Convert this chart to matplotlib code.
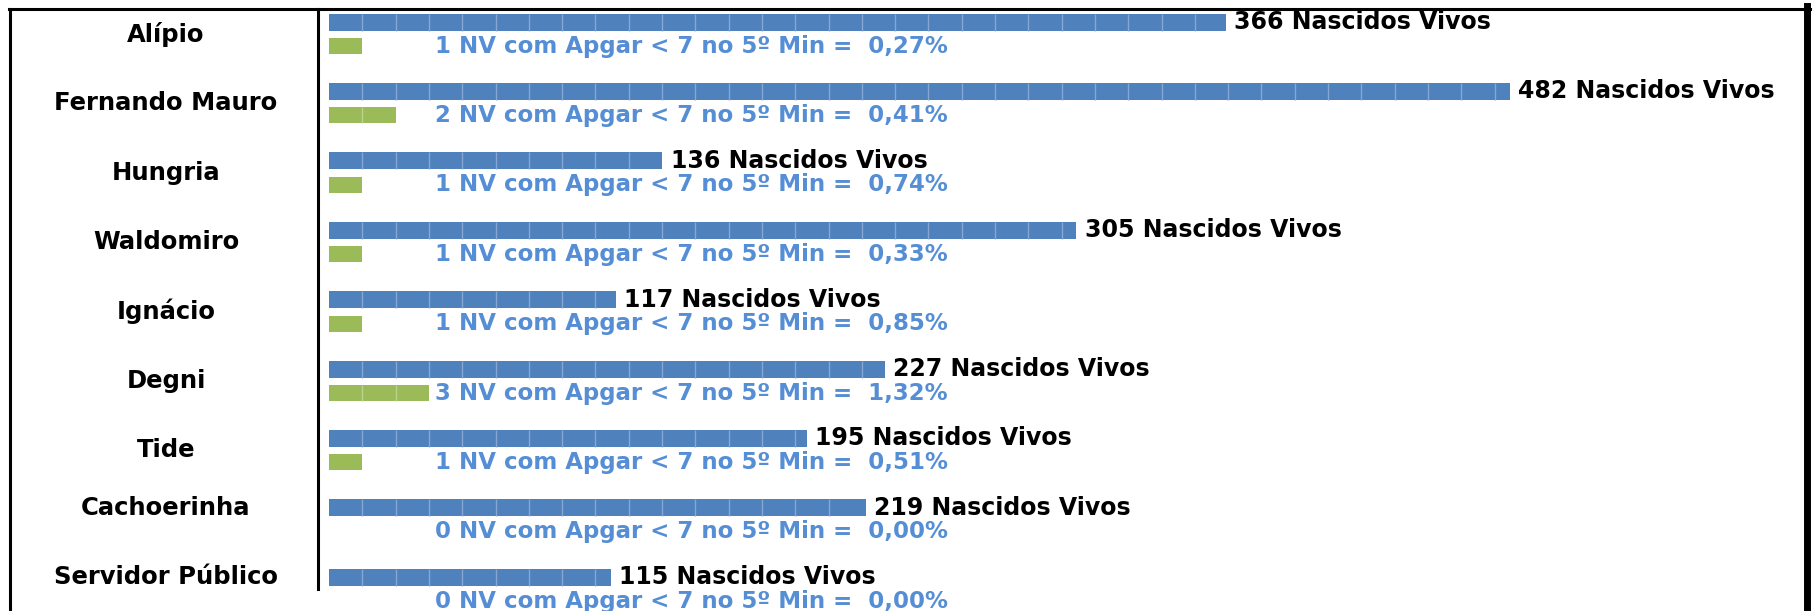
import numpy as np
import matplotlib.pyplot as plt
from matplotlib.lines import Line2D
from matplotlib.transforms import blended_transform_factory

hospitais = ['Alípio', 'Fernando Mauro', 'Hungria', 'Waldomiro', 'Ignácio',
             'Degni', 'Tide', 'Cachoerinha', 'Servidor Público']
nascidos_vivos = [366, 482, 136, 305, 117, 227, 195, 219, 115]
nv_apgar_baixo = [1, 2, 1, 1, 1, 3, 1, 0, 0]
pct_apgar_baixo = [0.27, 0.41, 0.74, 0.33, 0.85, 1.32, 0.51, 0.00, 0.00]

azul = '#4F81BD'
azul_linha = '#86A7D3'
verde = '#9BBB59'
verde_linha = '#BBD38C'
azul_texto = '#558ED5'

W, H, DPI = 1814, 611, 100
plt.rcParams['font.family'] = 'DejaVu Sans'
plt.rcParams['font.weight'] = 'bold'

fig = plt.figure(figsize=(W / DPI, H / DPI), dpi=DPI)

# geometria em pixels
x_sep, x_dir, y_topo = 318, 1806, 9
x_barra = 329            # onde as barras comecam
passo = 69.4             # distancia entre hospitais
y_centro0 = 34           # centro do primeiro hospital
px_por_nv = 2.45         # escala dos nascidos vivos
bloco_px = 33.3          # largura de cada bloco desenhado

ax = fig.add_axes([x_sep / W, 0, (x_dir - x_sep) / W, 1 - y_topo / H])
ax.set_xlim(-(x_barra - x_sep) / px_por_nv, (x_dir - x_barra) / px_por_nv)
ax.set_ylim((H - y_centro0) / passo, (y_topo - y_centro0) / passo)

ax2 = ax.twiny()
ax2.set_xlim(-(x_barra - x_sep) / bloco_px, (x_dir - x_barra) / bloco_px)

for a in (ax, ax2):
    a.set_xticks([])
    a.set_yticks([])
    for s in a.spines.values():
        s.set_visible(False)
ax.spines['left'].set_visible(True)
ax.spines['left'].set_linewidth(2.2)
ax.spines['left'].set_bounds((H - y_centro0) / passo - 0.31, (y_topo - y_centro0) / passo)

y = np.arange(len(hospitais))
y_azul = y - 12 / passo
y_verde = y + 12 / passo
h_azul = 17 / passo
h_verde = 16 / passo

ax.barh(y_azul, nascidos_vivos, height=h_azul, color=azul, linewidth=0)
ax2.barh(y_verde, nv_apgar_baixo, height=h_verde, color=verde, linewidth=0)

# divisoes dos blocos
seg = bloco_px / px_por_nv
for yb, v in zip(y_azul, nascidos_vivos):
    xs = np.arange(seg, v - 2, seg)
    ax.vlines(xs, yb - h_azul / 2, yb + h_azul / 2, colors=azul_linha, lw=1)
for yg, n in zip(y_verde, nv_apgar_baixo):
    xs = np.arange(1, n)
    ax2.vlines(xs, yg - h_verde / 2, yg + h_verde / 2, colors=verde_linha, lw=1)

# rotulos
for yb, v in zip(y_azul, nascidos_vivos):
    ax.annotate(f'{v} Nascidos Vivos', xy=(v, yb), xytext=(6, 0),
                textcoords='offset points', va='center', ha='left',
                fontsize=17, fontweight='bold', color='black')

x_txt = max(nv_apgar_baixo) + 0.18
for yg, n, p in zip(y_verde, nv_apgar_baixo, pct_apgar_baixo):
    txt = f'{n} NV com Apgar < 7 no 5º Min =  {p:.2f}%'.replace('.', ',')
    ax2.text(x_txt, yg, txt, va='center', ha='left', fontsize=16.5,
             fontweight='bold', color=azul_texto)

trans = blended_transform_factory(fig.transFigure, ax.transData)
for i, nome in enumerate(hospitais):
    yl = y[i] if nv_apgar_baixo[i] > 0 else y_azul[i]
    ax.text(166 / W, yl, nome, transform=trans, ha='center', va='center',
            fontsize=17.5, fontweight='bold', color='black')

# moldura externa
fig.add_artist(Line2D([10 / W, 10 / W], [0, 1 - 8.5 / H], transform=fig.transFigure,
                      color='black', lw=2.2))
fig.add_artist(Line2D([8.5 / W, 1810 / W], [1 - 8.5 / H, 1 - 8.5 / H],
                      transform=fig.transFigure, color='black', lw=2.2))
fig.add_artist(Line2D([1807 / W, 1807 / W], [0, 1 - 6 / H], transform=fig.transFigure,
                      color='black', lw=5))

fig.savefig('out.png', dpi=DPI)
